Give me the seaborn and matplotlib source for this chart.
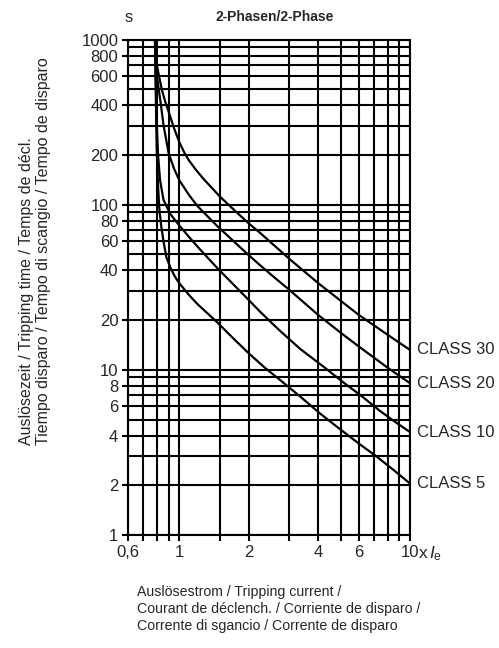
"""Tripping characteristic, 2-phase load, CLASS 5/10/20/30."""

import matplotlib
matplotlib.use("Agg")
import matplotlib.pyplot as plt
import pandas as pd
import seaborn as sns
from matplotlib import font_manager
from matplotlib.ticker import FixedLocator, NullFormatter

# curve data (x = multiple of Ie, y = seconds)
class_5_x = [0.785, 0.79, 0.795, 0.80, 0.81, 0.82, 0.835, 0.855, 0.88, 0.92, 0.96, 1.0, 1.1, 1.2,
             1.45, 1.7, 2.0, 2.35, 2.73, 3.34, 4.07, 5.0, 6.0, 7.18, 8.5, 10.0]
class_5_y = [1000, 550, 320, 200, 130, 95, 75, 60, 48, 41, 36.5, 33.5, 28.5, 25,
             19.6, 15.7, 12.6, 10.3, 8.7, 6.9, 5.45, 4.35, 3.58, 2.98, 2.47, 2.05]

class_10_x = [0.785, 0.79, 0.795, 0.80, 0.81, 0.826, 0.855, 0.91, 0.95, 1.0, 1.1, 1.24, 1.47,
              2.0, 2.24, 2.7, 3.34, 4.2, 5.14, 6.2, 7.4, 8.6, 10.0]
class_10_y = [1000, 700, 450, 300, 200, 141, 107, 89, 82, 75, 64, 53, 41,
              26.5, 22.5, 17.5, 13.4, 10.5, 8.4, 6.9, 5.65, 4.85, 4.2]

class_20_x = [0.79, 0.795, 0.80, 0.815, 0.83, 0.855, 0.90, 0.95, 1.0, 1.1, 1.2, 1.45, 1.7,
              2.0, 2.24, 2.6, 3.0, 4.0, 5.0, 6.0, 8.0, 10.0]
class_20_y = [1000, 800, 610, 500, 420, 303, 205, 165, 141, 115, 98, 75, 61,
              49.5, 43, 36, 30.5, 21.5, 16.8, 13.85, 10.3, 8.3]

class_30_x = [0.79, 0.80, 0.82, 0.84, 0.87, 0.90, 0.95, 1.0, 1.05, 1.1, 1.18, 1.27, 1.38, 1.5,
              1.7, 2.0, 2.24, 3.0, 4.0, 6.0, 8.0, 10.0]
class_30_y = [1000, 700, 590, 500, 420, 365, 290, 240, 208, 186, 163, 144, 127, 112,
              95, 77, 67.5, 47, 33.5, 21.5, 16.3, 13.2]

class_names = ["CLASS 30", "CLASS 20", "CLASS 10", "CLASS 5"]

x_ticks = [0.6, 1, 2, 4, 6, 10]
x_tick_labels = ["0,6", "1", "2", "4", "6", "10"]
x_minor = [0.7, 0.8, 0.9, 1.5, 3, 5, 7, 8, 9]

y_ticks = [1, 2, 4, 6, 8, 10, 20, 40, 60, 80, 100, 200, 400, 600, 800, 1000]
y_minor = [3, 5, 7, 9, 30, 50, 70, 90, 300, 500, 700, 900]

df = pd.concat([
    pd.DataFrame({"current": class_30_x, "time": class_30_y, "curve": "CLASS 30"}),
    pd.DataFrame({"current": class_20_x, "time": class_20_y, "curve": "CLASS 20"}),
    pd.DataFrame({"current": class_10_x, "time": class_10_y, "curve": "CLASS 10"}),
    pd.DataFrame({"current": class_5_x, "time": class_5_y, "curve": "CLASS 5"}),
])

sns.set_theme(style="white")
names = {f.name for f in font_manager.fontManager.ttflist}
narrow = "Liberation Sans Narrow" if "Liberation Sans Narrow" in names else "Liberation Sans"
plt.rcParams["font.family"] = ["Liberation Sans", "DejaVu Sans"]
plt.rcParams["mathtext.fontset"] = "custom"
plt.rcParams["mathtext.rm"] = "Liberation Sans"
plt.rcParams["mathtext.it"] = "Liberation Sans:italic"

fig = plt.figure(figsize=(4.99, 6.48), dpi=100)
ax = fig.add_axes([128 / 499, 1 - 535 / 648, (410 - 128) / 499, (535 - 39.5) / 648])

sns.lineplot(data=df, x="current", y="time", units="curve", estimator=None,
             sort=False, color="black", linewidth=1.6, ax=ax)

ax.set_xscale("log")
ax.set_yscale("log")
ax.set_xlim(0.6, 10)
ax.set_ylim(1, 1000)

ax.xaxis.set_major_locator(FixedLocator(x_ticks))
ax.set_xticklabels(x_tick_labels)
ax.xaxis.set_minor_locator(FixedLocator(x_minor))
ax.xaxis.set_minor_formatter(NullFormatter())
ax.yaxis.set_major_locator(FixedLocator(y_ticks))
ax.set_yticklabels([str(v) for v in y_ticks])
ax.yaxis.set_minor_locator(FixedLocator(y_minor))
ax.yaxis.set_minor_formatter(NullFormatter())

ax.tick_params(axis="x", which="both", direction="out", length=4, width=1.5,
               color="black", pad=3, labelsize=12, bottom=True)
ax.tick_params(axis="y", which="major", direction="out", length=4, width=1.5,
               color="black", pad=3, labelsize=12, left=True)
ax.tick_params(axis="y", which="minor", length=0)
ax.grid(True, which="both", color="black", linewidth=1.5)
for side in ax.spines.values():
    side.set_color("black")
    side.set_linewidth(1.5)

ax.set_xlabel("")
ax.set_ylabel("")

# curve names at the right end
for name, ys in zip(class_names, [class_30_y, class_20_y, class_10_y, class_5_y]):
    ax.annotate(name, xy=(10, ys[-1]), xytext=(5, 0), textcoords="offset points",
                ha="left", va="center", fontsize=12, annotation_clip=False)

ax.annotate(r"x$\,I_{\mathrm{e}}$", xy=(1, 0), xycoords="axes fraction",
            xytext=(6, -7), textcoords="offset points", ha="left", va="top",
            fontsize=12.5, annotation_clip=False)

fig.text(275 / 499, 1 - 17 / 648, "2-Phasen/2-Phase", ha="center", va="center",
         fontsize=10, fontweight="bold", family=narrow)
fig.text(129 / 499, 1 - 17 / 648, "s", ha="center", va="center", fontsize=12)

fig.text(35 / 499, 1 - 445 / 648,
         "Auslösezeit / Tripping time / Temps de décl.\n"
         "Tiempo disparo / Tempo di scangio / Tempo de disparo",
         rotation=90, ha="center", va="bottom", multialignment="left",
         fontsize=11.5, family=narrow, linespacing=1.1)

fig.text(137 / 499, 1 - 585 / 648,
         "Auslösestrom / Tripping current /\n"
         "Courant de déclench. / Corriente de disparo /\n"
         "Corrente di sgancio / Corrente de disparo",
         ha="left", va="top", fontsize=10.2, family=narrow, linespacing=1.27)

fig.savefig("out.png", dpi=100)
